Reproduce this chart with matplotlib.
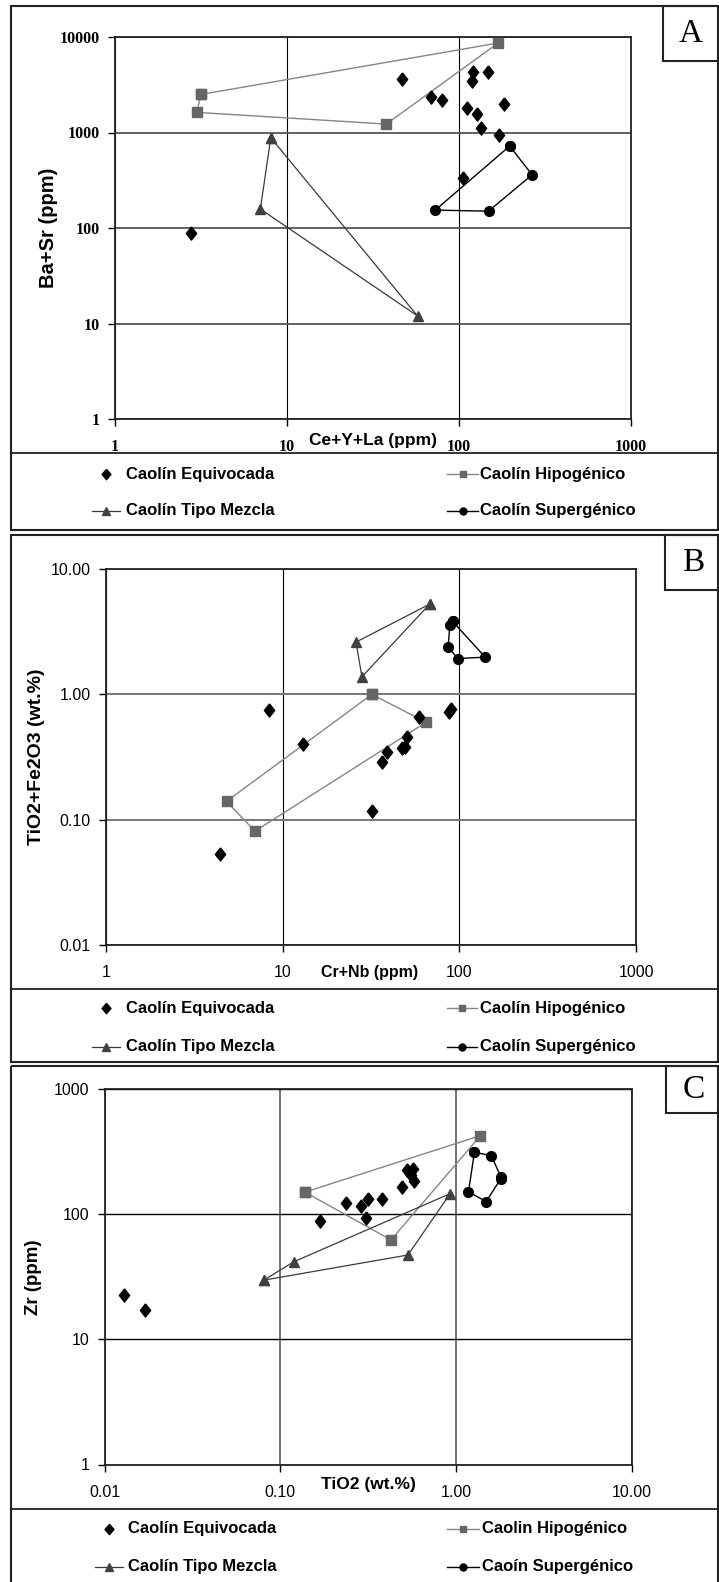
import matplotlib
matplotlib.use("Agg")
import matplotlib.pyplot as plt
from matplotlib import font_manager
from matplotlib.ticker import FixedLocator, FixedFormatter, NullLocator
from matplotlib.patches import Rectangle

# ---------------- data ----------------
# Panel A: Ce+Y+La (ppm) vs Ba+Sr (ppm)
A_equiv_x = [46.6, 69, 80, 121, 148, 119, 111, 183, 128, 135, 170, 105, 2.77]
A_equiv_y = [3600, 2370, 2200, 4300, 4300, 3460, 1800, 1990, 1560, 1120, 940, 336, 88]
A_hipo_x = [3.17, 2.98, 37.8, 169]
A_hipo_y = [2506, 1625, 1225, 8650]
A_mezcla_x = [8.05, 7.0, 57.4]
A_mezcla_y = [881, 158, 12.0]
A_super_x = [197, 266, 148.5, 72.8]
A_super_y = [721, 361, 150, 154]

# Panel B: Cr+Nb (ppm) vs TiO2+Fe2O3 (wt.%)
B_equiv_x = [8.34, 13.1, 58.9, 50.4, 47.5, 49, 39, 36.7, 32.2, 4.4, 86.9, 90]
B_equiv_y = [0.755, 0.402, 0.656, 0.454, 0.375, 0.38, 0.344, 0.288, 0.117, 0.053, 0.728, 0.760]
B_hipo_x = [32, 64.8, 6.97, 4.81]
B_hipo_y = [1.00, 0.598, 0.081, 0.140]
B_mezcla_x = [68, 26, 28.1]
B_mezcla_y = [5.25, 2.61, 1.38]
B_super_x = [91.6, 140, 97.9, 86.4, 88.4]
B_super_y = [3.82, 1.98, 1.93, 2.39, 3.55]

# Panel C: TiO2 (wt.%) vs Zr (ppm)
C_equiv_x = [0.0129, 0.0169, 0.169, 0.236, 0.286, 0.315, 0.306, 0.378, 0.489, 0.522, 0.565, 0.556, 0.578]
C_equiv_y = [22.4, 17.1, 87.8, 123, 116, 131, 93.3, 133, 165, 227, 230, 207, 185]
C_hipo_x = [0.138, 1.375, 0.426]
C_hipo_y = [150, 424, 62.3]
C_mezcla_x = [0.0805, 0.119, 0.925, 0.532]
C_mezcla_y = [29.7, 41.6, 146, 47.2]
C_super_x = [1.27, 1.58, 1.80, 1.79, 1.48, 1.175]
C_super_y = [312, 294, 198, 191, 126, 151]

A_xticks = [1, 10, 100, 1000]
A_xticklabels = ["1", "10", "100", "1000"]
A_yticks = [1, 10, 100, 1000, 10000]
A_yticklabels = ["1", "10", "100", "1000", "10000"]
B_xticks = [1, 10, 100, 1000]
B_xticklabels = ["1", "10", "100", "1000"]
B_yticks = [0.01, 0.1, 1, 10]
B_yticklabels = ["0.01", "0.10", "1.00", "10.00"]
C_xticks = [0.01, 0.1, 1, 10]
C_xticklabels = ["0.01", "0.10", "1.00", "10.00"]
C_yticks = [1, 10, 100, 1000]
C_yticklabels = ["1", "10", "100", "1000"]

legend_A = ["Caolín Equivocada", "Caolín Hipogénico", "Caolín Tipo Mezcla", "Caolín Supergénico"]
legend_B = ["Caolín Equivocada", "Caolín Hipogénico", "Caolín Tipo Mezcla", "Caolín Supergénico"]
legend_C = ["Caolín Equivocada", "Caolin Hipogénico", "Caolín Tipo Mezcla", "Caoín Supergénico"]

# ---------------- styles ----------------
names = {f.name for f in font_manager.fontManager.ttflist}
NARROW = "Liberation Sans Narrow" if "Liberation Sans Narrow" in names else "Liberation Sans"
SANS = "Liberation Sans"
SERIF = "Liberation Serif"

W, H = 719, 1582
fig = plt.figure(figsize=(W / 100, H / 100), dpi=100)
fig.patch.set_facecolor("white")

ov = fig.add_axes([0, 0, 1, 1])
ov.set_xlim(0, W)
ov.set_ylim(H, 0)
ov.axis("off")
ov.patch.set_alpha(0)

DIAMOND = [(0, 1), (0.78, 0), (0, -1), (-0.78, 0), (0, 1)]
LEG_DIAMOND = [(0, 1), (0.85, 0), (0, -1), (-0.85, 0), (0, 1)]

STY = {
    "equiv": dict(ls="none", marker=DIAMOND, color="black", ms=9.5, mec="black"),
    "hipo": dict(ls="-", lw=1.0, color="#858585", marker="s", ms=6.5, mfc="#666666", mec="#666666"),
    "mezcla": dict(ls="-", lw=0.9, color="#3a3a3a", marker="^", ms=7.5, mfc="#404040", mec="#404040"),
    "super": dict(ls="-", lw=1.0, color="black", marker="o", ms=7, mfc="black", mec="black"),
}


def px_axes(l, t, r, b):
    return fig.add_axes([l / W, 1 - b / H, (r - l) / W, (b - t) / H])


def closed(v):
    return list(v) + [v[0]]


def setup(ax, xt, xtl, yt, ytl, tickfont, ticksize, tickweight, hgrid, vgrid):
    ax.set_xscale("log")
    ax.set_yscale("log")
    ax.set_xlim(xt[0], xt[-1])
    ax.set_ylim(yt[0], yt[-1])
    ax.xaxis.set_major_locator(FixedLocator(xt))
    ax.xaxis.set_major_formatter(FixedFormatter(xtl))
    ax.yaxis.set_major_locator(FixedLocator(yt))
    ax.yaxis.set_major_formatter(FixedFormatter(ytl))
    ax.xaxis.set_minor_locator(NullLocator())
    ax.yaxis.set_minor_locator(NullLocator())
    ax.tick_params(axis="both", direction="out", length=5, width=1, color="black")
    ax.tick_params(axis="x", pad=9.5)
    ax.tick_params(axis="y", pad=6)
    for lab in ax.get_xticklabels() + ax.get_yticklabels():
        lab.set_fontfamily(tickfont)
        lab.set_fontsize(ticksize)
        lab.set_fontweight(tickweight)
    ax.set_axisbelow(True)
    ax.grid(True, axis="y", color=hgrid[0], lw=hgrid[1])
    ax.grid(True, axis="x", color=vgrid[0], lw=vgrid[1])
    for s in ax.spines.values():
        s.set_linewidth(1.3)
        s.set_color("#222222")
    ax.set_facecolor("white")


def plot_panel(ax, ex, ey, hx, hy, mx, my, sx, sy):
    ax.plot(closed(hx), closed(hy), **STY["hipo"], zorder=3)
    ax.plot(closed(mx), closed(my), **STY["mezcla"], zorder=3)
    ax.plot(closed(sx), closed(sy), **STY["super"], zorder=3)
    ax.plot(ex, ey, **STY["equiv"], zorder=4)


def frame(top, div, bottom, boxl, boxb, letter, letter_y):
    ov.add_patch(Rectangle((11, top), 707, bottom - top, fill=False, lw=1.5, ec="#222222"))
    ov.plot([11, 718], [div, div], color="#222222", lw=1.3)
    ov.add_patch(Rectangle((boxl, top), 60, boxb - top, fill=False, lw=1.5, ec="#222222"))
    ov.text(boxl + 28, letter_y, letter, family=SERIF, fontsize=24, ha="center", va="center")


LFS = 12


def legend(labels, y1, y2, lx_marker, lx_text, rx_line0, rx_line1, rx_text):
    # row 1 left: diamond
    ov.plot([lx_marker], [y1], ls="none", marker=LEG_DIAMOND, color="black", ms=7.5)
    ov.text(lx_text, y1, labels[0], family=SANS, fontweight="bold", fontsize=LFS, ha="left", va="center")
    # row 1 right: hipogénico
    ov.plot([rx_line0, rx_line1], [y1, y1], color="#858585", lw=1.0)
    ov.plot([(rx_line0 + rx_line1) / 2], [y1], ls="none", marker="s", ms=5, mfc="#666666", mec="#666666")
    ov.text(rx_text, y1, labels[1], family=SANS, fontweight="bold", fontsize=LFS, ha="left", va="center")
    # row 2 left: mezcla
    ov.plot([lx_marker - 14, lx_marker + 14], [y2, y2], color="#3a3a3a", lw=0.9)
    ov.plot([lx_marker], [y2], ls="none", marker="^", ms=6, mfc="#404040", mec="#404040")
    ov.text(lx_text, y2, labels[2], family=SANS, fontweight="bold", fontsize=LFS, ha="left", va="center")
    # row 2 right: supergénico
    ov.plot([rx_line0, rx_line1], [y2, y2], color="black", lw=1.0)
    ov.plot([(rx_line0 + rx_line1) / 2], [y2], ls="none", marker="o", ms=5, color="black")
    ov.text(rx_text, y2, labels[3], family=SANS, fontweight="bold", fontsize=LFS, ha="left", va="center")


# ---------------- Panel A ----------------
frame(6, 453, 530, 663, 61, "A", 34)
axA = px_axes(115, 37, 631, 419)
setup(axA, A_xticks, A_xticklabels, A_yticks, A_yticklabels, SERIF, 11.5, "bold",
      ("#555555", 1.3), ("black", 0.8))
plot_panel(axA, A_equiv_x, A_equiv_y, A_hipo_x, A_hipo_y, A_mezcla_x, A_mezcla_y, A_super_x, A_super_y)
ov.text(48, 228, "Ba+Sr (ppm)", family=SANS, fontweight="bold", fontsize=14.5, rotation=90, ha="center", va="center")
ov.text(373, 441, "Ce+Y+La (ppm)", family=NARROW, fontweight="bold", fontsize=12.5, ha="center", va="center")
legend(legend_A, 474, 511, 106, 126.5, 447, 478, 480.5)

# ---------------- Panel B ----------------
frame(535, 989, 1062, 665, 590, "B", 563)
axB = px_axes(106, 569, 636, 945)
setup(axB, B_xticks, B_xticklabels, B_yticks, B_yticklabels, SANS, 11.5, "normal",
      ("#777777", 1.4), ("black", 0.8))
plot_panel(axB, B_equiv_x, B_equiv_y, B_hipo_x, B_hipo_y, B_mezcla_x, B_mezcla_y, B_super_x, B_super_y)
ov.text(37, 757, "TiO2+Fe2O3 (wt.%)", family=SANS, fontweight="bold", fontsize=14, rotation=90, ha="center", va="center")
ov.text(370, 973, "Cr+Nb (ppm)", family=SANS, fontweight="bold", fontsize=11.5, ha="center", va="center")
legend(legend_B, 1008, 1047, 106, 126.5, 447, 477, 480.5)

# ---------------- Panel C ----------------
frame(1066, 1509, 1590, 666, 1113, "C", 1090)
axC = px_axes(104.5, 1089, 632, 1464.5)
setup(axC, C_xticks, C_xticklabels, C_yticks, C_yticklabels, SANS, 11.5, "normal",
      ("black", 1.0), ("#666666", 1.3))
plot_panel(axC, C_equiv_x, C_equiv_y, C_hipo_x, C_hipo_y, C_mezcla_x, C_mezcla_y, C_super_x, C_super_y)
ov.text(34, 1277, "Zr (ppm)", family=SANS, fontweight="bold", fontsize=13.5, rotation=90, ha="center", va="center")
ov.text(368, 1485, "TiO2 (wt.%)", family=NARROW, fontweight="bold", fontsize=12.5, ha="center", va="center")
legend(legend_C, 1529, 1567, 109, 128, 447, 479, 481.5)

fig.savefig("out.png", dpi=100, facecolor="white")
